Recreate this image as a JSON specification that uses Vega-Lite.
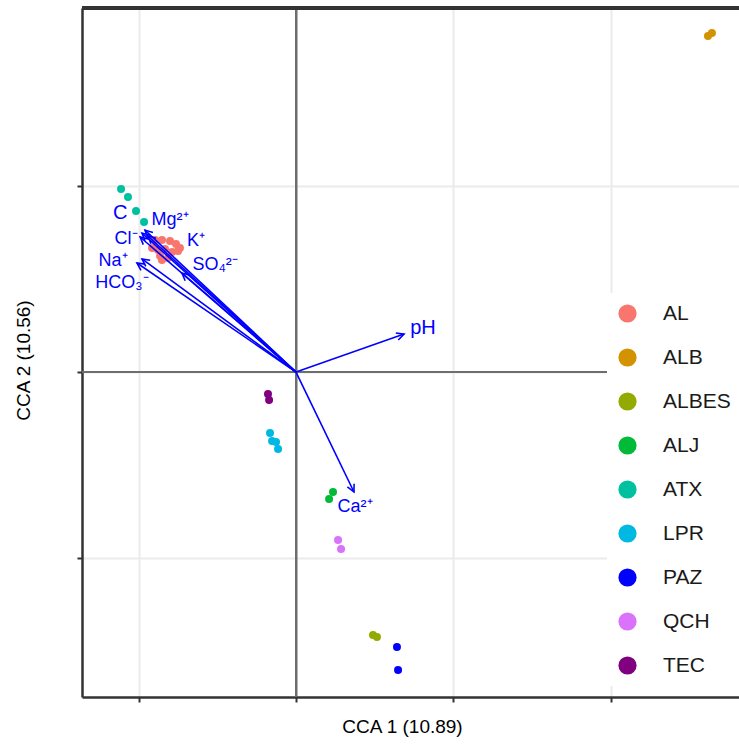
{
  "$schema": "https://vega.github.io/schema/vega-lite/v6.json",
  "autosize": {"type": "none"},
  "padding": {"left": 82, "top": 8, "right": 0, "bottom": 47},
  "width": 657,
  "height": 689,
  "background": "white",
  "config": {
    "view": {"stroke": null},
    "font": "Liberation Sans",
    "axis": {
      "labels": false,
      "grid": true,
      "gridColor": "#ebebeb",
      "gridWidth": 2,
      "tickColor": "#333333",
      "tickSize": 5,
      "tickWidth": 2,
      "domainColor": "#333333",
      "domainWidth": 2.5,
      "titleFont": "Liberation Sans",
      "titleFontSize": 19,
      "titleFontWeight": "normal",
      "titleColor": "#000000"
    }
  },
  "datasets": {
    "sites": [
      {"site": "ALB", "cca1": 2.616, "cca2": 1.806},
      {"site": "ALB", "cca1": 2.641, "cca2": 1.823},
      {"site": "ATX", "cca1": -1.111, "cca2": 0.984},
      {"site": "ATX", "cca1": -1.067, "cca2": 0.941},
      {"site": "ATX", "cca1": -1.016, "cca2": 0.866},
      {"site": "ATX", "cca1": -0.965, "cca2": 0.806},
      {"site": "AL", "cca1": -0.895, "cca2": 0.710},
      {"site": "AL", "cca1": -0.851, "cca2": 0.710},
      {"site": "AL", "cca1": -0.800, "cca2": 0.704},
      {"site": "AL", "cca1": -0.762, "cca2": 0.688},
      {"site": "AL", "cca1": -0.737, "cca2": 0.667},
      {"site": "AL", "cca1": -0.914, "cca2": 0.667},
      {"site": "AL", "cca1": -0.876, "cca2": 0.656},
      {"site": "AL", "cca1": -0.832, "cca2": 0.661},
      {"site": "AL", "cca1": -0.787, "cca2": 0.645},
      {"site": "AL", "cca1": -0.749, "cca2": 0.651},
      {"site": "AL", "cca1": -0.863, "cca2": 0.624},
      {"site": "AL", "cca1": -0.813, "cca2": 0.613},
      {"site": "AL", "cca1": -0.851, "cca2": 0.602},
      {"site": "TEC", "cca1": -0.178, "cca2": -0.118},
      {"site": "TEC", "cca1": -0.171, "cca2": -0.151},
      {"site": "LPR", "cca1": -0.165, "cca2": -0.328},
      {"site": "LPR", "cca1": -0.152, "cca2": -0.371},
      {"site": "LPR", "cca1": -0.127, "cca2": -0.376},
      {"site": "LPR", "cca1": -0.114, "cca2": -0.414},
      {"site": "ALJ", "cca1": 0.235, "cca2": -0.645},
      {"site": "ALJ", "cca1": 0.210, "cca2": -0.683},
      {"site": "QCH", "cca1": 0.267, "cca2": -0.903},
      {"site": "QCH", "cca1": 0.286, "cca2": -0.952},
      {"site": "ALBES", "cca1": 0.489, "cca2": -1.414},
      {"site": "ALBES", "cca1": 0.514, "cca2": -1.425},
      {"site": "PAZ", "cca1": 0.641, "cca2": -1.478},
      {"site": "PAZ", "cca1": 0.648, "cca2": -1.602}
    ],
    "vars": [
      {"var": "C", "x": -0.978, "y": 0.747, "lx": -1.117, "ly": 0.855},
      {"var": "Mg²⁺", "x": -0.959, "y": 0.763, "lx": -0.800, "ly": 0.817},
      {"var": "Cl⁻", "x": -0.990, "y": 0.726, "lx": -1.079, "ly": 0.715},
      {"var": "K⁺", "x": -0.940, "y": 0.731, "lx": -0.635, "ly": 0.704},
      {"var": "SO₄²⁻", "x": -0.724, "y": 0.532, "lx": -0.514, "ly": 0.575},
      {"var": "Na⁺", "x": -0.978, "y": 0.608, "lx": -1.162, "ly": 0.597},
      {"var": "HCO₃⁻", "x": -1.010, "y": 0.586, "lx": -1.105, "ly": 0.478},
      {"var": "pH", "x": 0.686, "y": 0.204, "lx": 0.806, "ly": 0.237},
      {"var": "Ca²⁺", "x": 0.368, "y": -0.645, "lx": 0.375, "ly": -0.726}
    ]
  },
  "layer": [
    {
      "data": {"name": "sites"},
      "mark": {"type": "rule", "color": "#6e6e6e", "strokeWidth": 2},
      "encoding": {
        "x": {"datum": 0, "type": "quantitative", "scale": {"domain": [-1.359, 2.813], "nice": false, "zero": false},
              "axis": {"values": [-1, 0, 1, 2], "title": "CCA 1 (10.89)", "titlePadding": 14, "titleX": 320}}
      }
    },
    {
      "data": {"name": "sites"},
      "mark": {"type": "rule", "color": "#6e6e6e", "strokeWidth": 2},
      "encoding": {
        "y": {"datum": 0, "type": "quantitative", "scale": {"domain": [-1.747, 1.957], "nice": false, "zero": false},
              "axis": {"values": [-1, 0, 1], "title": "CCA 2 (10.56)", "titlePadding": 43, "titleY": 352}}
      }
    },
    {
      "data": {"name": "sites"},
      "mark": {"type": "rule", "color": "#333333", "strokeWidth": 3},
      "encoding": {"y": {"datum": 1.957, "type": "quantitative"}}
    },
    {
      "data": {"name": "sites"},
      "mark": {"type": "circle", "opacity": 1, "size": 64},
      "encoding": {
        "x": {"field": "cca1", "type": "quantitative"},
        "y": {"field": "cca2", "type": "quantitative"},
        "color": {
          "field": "site", "type": "nominal",
          "scale": {
            "domain": ["AL", "ALB", "ALBES", "ALJ", "ATX", "LPR", "PAZ", "QCH", "TEC"],
            "range": ["#F8766D", "#D39200", "#93AA00", "#00BA38", "#00C19F", "#00B9E3", "#0000FF", "#DB72FB", "#800080"]
          },
          "legend": {
            "title": null,
            "orient": "none",
            "legendX": 525,
            "legendY": 285,
            "fillColor": "white",
            "padding": 10,
            "symbolType": "circle",
            "symbolSize": 330,
            "symbolOpacity": 1,
            "symbolStrokeWidth": 0,
            "labelFont": "Liberation Sans",
            "labelFontSize": 21,
            "labelColor": "#1a1a1a",
            "labelOffset": 25,
            "rowPadding": 22,
            "labelLimit": 200
          }
        }
      }
    },
    {
      "data": {"name": "vars"},
      "mark": {"type": "rule", "color": "#0000FF", "strokeWidth": 1.6},
      "encoding": {
        "x": {"field": "x", "type": "quantitative"},
        "y": {"field": "y", "type": "quantitative"},
        "x2": {"datum": 0},
        "y2": {"datum": 0}
      }
    },
    {
      "data": {"name": "vars"},
      "transform": [{"calculate": "atan2(datum.x * 157.5, datum.y * 186) * 180 / PI", "as": "ang"}],
      "mark": {"type": "point", "shape": "M -0.5 1 L 0 0 L 0.5 1", "filled": false, "color": "#0000FF", "strokeWidth": 1.6, "size": 220, "opacity": 1},
      "encoding": {
        "x": {"field": "x", "type": "quantitative"},
        "y": {"field": "y", "type": "quantitative"},
        "angle": {"field": "ang", "type": "quantitative", "scale": null}
      }
    },
    {
      "data": {"name": "vars"},
      "mark": {"type": "text", "color": "#0000FF", "font": "Liberation Sans", "align": "center", "baseline": "middle"},
      "encoding": {
        "x": {"field": "lx", "type": "quantitative"},
        "y": {"field": "ly", "type": "quantitative"},
        "text": {"field": "var"},
        "size": {"condition": {"test": "datum.var === 'pH' || datum.var === 'C'", "value": 20}, "value": 18}
      }
    }
  ]
}
